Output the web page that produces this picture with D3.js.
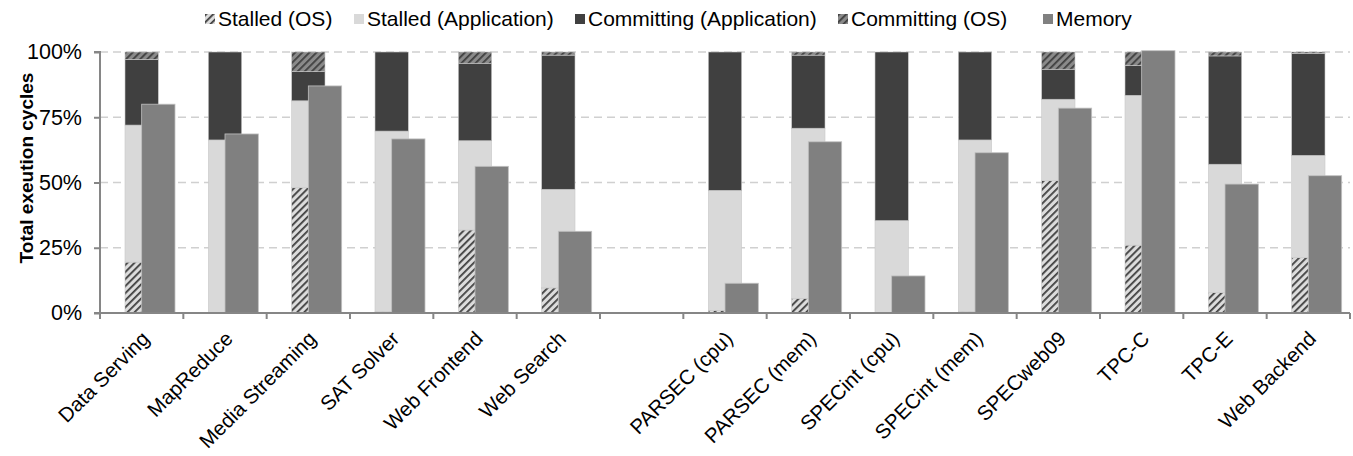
<!DOCTYPE html>
<html><head><meta charset="utf-8">
<script src="https://cdn.jsdelivr.net/npm/d3@7"></script>
<style>body{margin:0;background:#fff;} svg{display:block;font-family:"Liberation Sans",Arial,sans-serif;}</style>
</head><body><div id="chart"></div>
<script>
const categories = ["Data Serving","MapReduce","Media Streaming","SAT Solver","Web Frontend","Web Search","","PARSEC (cpu)","PARSEC (mem)","SPECint (cpu)","SPECint (mem)","SPECweb09","TPC-C","TPC-E","Web Backend"];
const stalledOS  = [19.5, 0, 48, 0.5, 31.8, 9.6, null, 1, 5.6, 0, 0.5, 50.7, 26, 7.8, 21.2];
const stalledApp = [52.5, 66.3, 33.3, 69.2, 34.2, 37.8, null, 46, 65.2, 35.4, 65.8, 31.2, 57.4, 49.2, 39.2];
const commitApp  = [25.2, 33.7, 11.2, 30.3, 29.7, 51.4, null, 53, 28, 64.6, 33.7, 11.5, 11.4, 41.5, 39.1];
const commitOS   = [2.8, 0, 7.5, 0, 4.3, 1.2, null, 0, 1.2, 0, 0, 6.6, 5.2, 1.5, 0.5];
const memory     = [80, 68.6, 87, 66.7, 56.2, 31.3, null, 11.4, 65.6, 14.2, 61.4, 78.5, 100.5, 49.4, 52.6];
const yTicks = [0, 25, 50, 75, 100];
const seriesNames = ["Stalled (OS)","Stalled (Application)","Committing (Application)","Committing (OS)","Memory"];

const W = 1353, H = 456;
const m = {left: 100, right: 3, top: 52, bottom: 143};
const svg = d3.select("#chart").append("svg").attr("width", W).attr("height", H);
const defs = svg.append("defs");
function hatch(id, bg, fg){
  const p = defs.append("pattern").attr("id", id).attr("patternUnits","userSpaceOnUse")
    .attr("width", 5).attr("height", 5).attr("patternTransform","rotate(45)");
  p.append("rect").attr("width",5).attr("height",5).attr("fill",bg);
  p.append("rect").attr("x",0).attr("width",1.8).attr("height",5).attr("fill",fg);
}
hatch("hOS", "#dcdcdc", "#404040");
hatch("hCOS", "#8a8a8a", "#404040");

const fills = ["url(#hOS)", "#d9d9d9", "#404040", "url(#hCOS)", "#808080"];

const x = d3.scaleBand().domain(d3.range(categories.length)).range([m.left, W - m.right]);
const y = d3.scaleLinear().domain([0, 100]).range([H - m.bottom, m.top]);
const bw = x.bandwidth() * 0.4;

// gridlines
svg.append("g").selectAll("line").data(yTicks.filter(d => d > 0)).join("line")
  .attr("x1", m.left).attr("x2", W - m.right)
  .attr("y1", d => y(d)).attr("y2", d => y(d))
  .attr("stroke", "#d0d0d0").attr("stroke-width", 1.3).attr("stroke-dasharray", "8,5");

// stacked bars
const rows = categories.map((c, i) => ({i, s0: stalledOS[i], s1: stalledApp[i], s2: commitApp[i], s3: commitOS[i]}));
const stack = d3.stack().keys(["s0","s1","s2","s3"]).value((d, k) => d[k] || 0)(rows);
const gBars = svg.append("g");
stack.forEach((layer, li) => {
  gBars.append("g").selectAll("rect").data(layer.filter(d => d.data.s0 !== null && d[1] - d[0] > 0)).join("rect")
    .attr("x", d => x(d.data.i) + x.bandwidth() / 2 - bw / 2)
    .attr("width", bw)
    .attr("y", d => y(d[1]))
    .attr("height", d => y(d[0]) - y(d[1]))
    .attr("fill", fills[li])
    .attr("stroke", "#c8c8c8").attr("stroke-width", 0.6);
});
// memory bars
svg.append("g").selectAll("rect").data(memory.map((v, i) => ({v, i})).filter(d => d.v !== null)).join("rect")
  .attr("x", d => x(d.i) + x.bandwidth() / 2)
  .attr("width", bw)
  .attr("y", d => y(d.v))
  .attr("height", d => y(0) - y(d.v))
  .attr("fill", "#808080").attr("stroke", "#c0c0c0").attr("stroke-width", 0.8);

// y axis
const yAxis = svg.append("g").attr("transform", `translate(${m.left},0)`)
  .call(d3.axisLeft(y).tickValues(yTicks).tickFormat(d => d + "%").tickSize(6).tickPadding(12));
yAxis.selectAll("path,line").attr("stroke", "#868686").attr("stroke-width", 2);
yAxis.select(".domain").attr("d", `M-6,${y(100)}H0V${y(0)}H-6`);
yAxis.selectAll("text").attr("font-size", 21.5).attr("fill", "#000").attr("font-family", "Liberation Sans, Arial, sans-serif");

// x axis
const xTickPos = d3.range(categories.length + 1).map(i => m.left + i * x.step());
const xg = svg.append("g");
xg.append("line").attr("x1", m.left).attr("x2", W - m.right).attr("y1", y(0)).attr("y2", y(0))
  .attr("stroke", "#868686").attr("stroke-width", 2);
xg.selectAll("line.t").data(xTickPos).join("line").attr("class","t")
  .attr("x1", d => d).attr("x2", d => d).attr("y1", y(0)).attr("y2", y(0) + 6)
  .attr("stroke", "#868686").attr("stroke-width", 2);
xg.selectAll("text").data(categories.map((c, i) => ({c, i})).filter(d => d.c)).join("text")
  .attr("transform", d => `translate(${x(d.i) + x.bandwidth() / 2 + 9},${y(0) + 27}) rotate(-45)`)
  .attr("text-anchor", "end").attr("font-size", 20.5).attr("fill", "#000")
  .text(d => d.c);

// y title
svg.append("text").attr("transform", `translate(33,168) rotate(-90)`)
  .attr("text-anchor", "middle").attr("font-size", 19).attr("font-weight", "bold").text("Total exeution cycles");

// legend
const legendX = [205, 354, 575, 838, 1043];
const lg = svg.append("g").selectAll("g").data(seriesNames.map((n, i) => ({n, i}))).join("g")
  .attr("transform", d => `translate(${legendX[d.i]},0)`);
lg.append("rect").attr("x", 0).attr("y", 14).attr("width", 10).attr("height", 10).attr("fill", d => fills[d.i]);
lg.append("text").attr("x", 13).attr("y", 25.5).attr("font-size", 21).text(d => d.n);
</script></body></html>
